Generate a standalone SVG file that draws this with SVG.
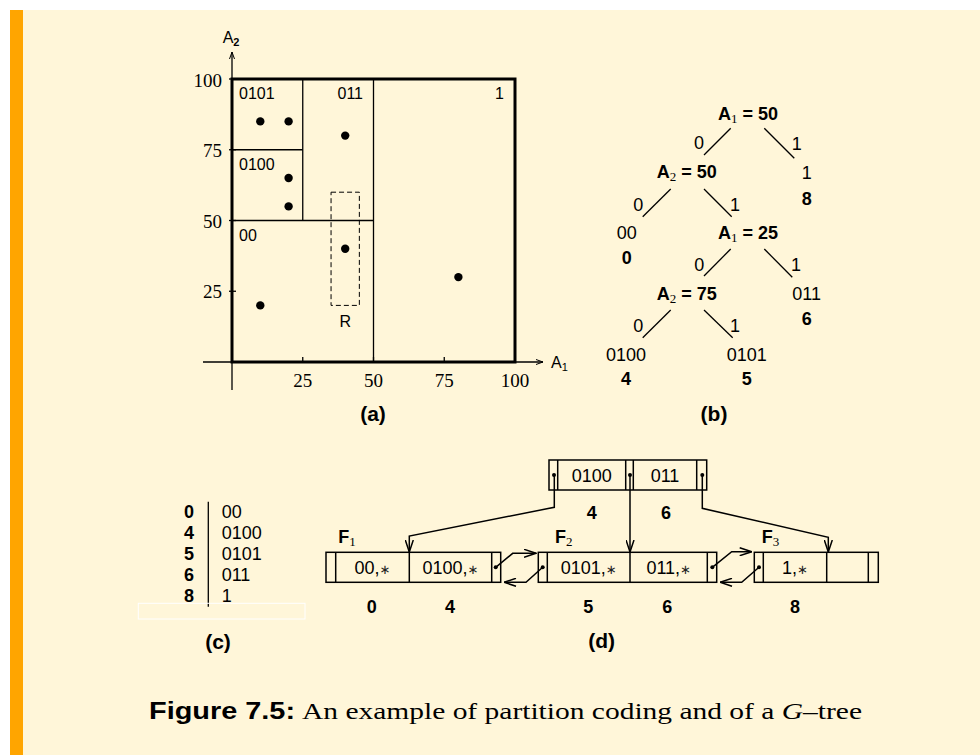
<svg xmlns="http://www.w3.org/2000/svg" width="980" height="755" viewBox="0 0 980 755">
<defs>
<style>
.s{font-family:"Liberation Sans",Arial,sans-serif;fill:#000}
.b{font-family:"Liberation Sans",Arial,sans-serif;font-weight:bold;fill:#000}
.r{font-family:"Liberation Serif","Times New Roman",serif;fill:#000}
.ln{stroke:#000;fill:none;stroke-width:1.3}
.cell{stroke:#000;fill:none;stroke-width:1.5}
.t16{font-size:16px}
.t18{font-size:18px}
.mid{text-anchor:middle}
.end{text-anchor:end}
.ast{font-family:"DejaVu Sans",sans-serif;font-size:13px;font-weight:normal}
</style>
<marker id="ah" viewBox="0 0 13 9" refX="12.5" refY="4.5" markerWidth="13" markerHeight="9" markerUnits="userSpaceOnUse" orient="auto">
<path d="M0.5,0.5 L12.5,4.5 L0.5,8.5" fill="none" stroke="#000" stroke-width="1.5"/>
</marker>
<marker id="ax" viewBox="0 0 7 6" refX="7" refY="3" markerWidth="7" markerHeight="6" markerUnits="userSpaceOnUse" orient="auto">
<path d="M0,0.5 L7,3 L0,5.5" fill="none" stroke="#000" stroke-width="1"/>
</marker>
</defs>
<rect x="0" y="0" width="980" height="755" fill="#fff"/>
<rect x="10" y="10" width="970" height="745" fill="#FFF6D9"/>
<rect x="10" y="10" width="13" height="745" fill="#FFA500"/>

<!-- (a) partition plot -->
<g id="plot">
<line x1="232" y1="390" x2="232" y2="52" class="ln" stroke-width="1" marker-end="url(#ax)"/>
<line x1="203" y1="362" x2="543" y2="362" class="ln" stroke-width="1" marker-end="url(#ax)"/>
<g class="ln" stroke-width="1">
<line x1="229" y1="291.25" x2="236" y2="291.25"/>
<line x1="229" y1="220.5" x2="236" y2="220.5"/>
<line x1="229" y1="149.75" x2="236" y2="149.75"/>
<line x1="229" y1="79" x2="236" y2="79"/>
<line x1="302.75" y1="357" x2="302.75" y2="362"/>
<line x1="373.5" y1="357" x2="373.5" y2="362"/>
<line x1="444.25" y1="357" x2="444.25" y2="362"/>
</g>
<line x1="302.75" y1="79" x2="302.75" y2="220.5" class="ln"/>
<line x1="373.5" y1="79" x2="373.5" y2="362" class="ln"/>
<line x1="232" y1="149.75" x2="302.75" y2="149.75" class="ln"/>
<line x1="232" y1="220.5" x2="373.5" y2="220.5" class="ln"/>
<rect x="232" y="79" width="283" height="283" fill="none" stroke="#000" stroke-width="3"/>
<rect x="331.05" y="192.2" width="28.3" height="113.2" fill="none" stroke="#000" stroke-width="1" stroke-dasharray="5,3"/>
<g fill="#000">
<circle cx="260.3" cy="121.4" r="4.2"/>
<circle cx="288.6" cy="121.4" r="4.2"/>
<circle cx="345.2" cy="135.6" r="4.2"/>
<circle cx="288.6" cy="178" r="4.2"/>
<circle cx="288.6" cy="206.4" r="4.2"/>
<circle cx="345.2" cy="248.8" r="4.2"/>
<circle cx="260.3" cy="305.4" r="4.2"/>
<circle cx="458.4" cy="277.1" r="4.2"/>
</g>
<text x="222.7" y="43" class="s" font-size="16">A<tspan class="b" font-size="11" dy="3">2</tspan></text>
<text x="551" y="367.5" class="s" font-size="16">A<tspan font-size="11" dy="3">1</tspan></text>
<g class="r end" font-size="19">
<text x="222" y="87">100</text>
<text x="222" y="157">75</text>
<text x="222" y="227.5">50</text>
<text x="222" y="298">25</text>
</g>
<g class="r mid" font-size="19">
<text x="302.75" y="387">25</text>
<text x="373.5" y="387">50</text>
<text x="444.25" y="387">75</text>
<text x="515" y="387">100</text>
</g>
<g class="s t16">
<text x="239" y="99">0101</text>
<text x="363" y="99" class="end">011</text>
<text x="504" y="99" class="end">1</text>
<text x="239" y="170">0100</text>
<text x="239" y="241">00</text>
<text x="345.2" y="326.5" class="mid">R</text>
</g>
<text x="373" y="421" class="b mid" font-size="21">(a)</text>
</g>

<!-- (b) tree -->
<g id="tree-edges" class="ln">
<line x1="730.7" y1="128.3" x2="704" y2="155"/>
<line x1="764.3" y1="128.3" x2="794.3" y2="158.3"/>
<line x1="670.7" y1="189" x2="642.7" y2="216.7"/>
<line x1="704" y1="189" x2="731.7" y2="216.7"/>
<line x1="730.7" y1="249" x2="704" y2="276"/>
<line x1="764.3" y1="249" x2="792.3" y2="277.3"/>
<line x1="670.7" y1="310" x2="642.7" y2="337.7"/>
<line x1="704" y1="310" x2="732.7" y2="337.7"/>
</g>
<g id="tree-edge-labels" class="s t18 mid">
<text x="699" y="149">0</text>
<text x="796.7" y="149.5">1</text>
<text x="638.3" y="210.5">0</text>
<text x="735" y="210.5">1</text>
<text x="699.3" y="270.5">0</text>
<text x="796" y="270.5">1</text>
<text x="638.3" y="331.5">0</text>
<text x="735" y="331.5">1</text>
</g>
<g id="t-root"><text x="748" y="119.5" class="b t18 mid">A<tspan class="r" font-weight="normal" font-size="13" dy="3">1</tspan><tspan dy="-3"> = 50</tspan></text></g>
<g id="t-a2-50"><text x="686.7" y="178" class="b t18 mid">A<tspan class="r" font-weight="normal" font-size="13" dy="3">2</tspan><tspan dy="-3"> = 50</tspan></text></g>
<g id="t-a1-25"><text x="748" y="239" class="b t18 mid">A<tspan class="r" font-weight="normal" font-size="13" dy="3">1</tspan><tspan dy="-3"> = 25</tspan></text></g>
<g id="t-a2-75"><text x="686.7" y="300" class="b t18 mid">A<tspan class="r" font-weight="normal" font-size="13" dy="3">2</tspan><tspan dy="-3"> = 75</tspan></text></g>
<g id="t-leaf-1"><text x="806.7" y="179" class="s t18 mid">1</text><text x="806.7" y="205" class="b t18 mid">8</text></g>
<g id="t-leaf-00"><text x="626.7" y="239" class="s t18 mid">00</text><text x="626.7" y="264" class="b t18 mid">0</text></g>
<g id="t-leaf-011"><text x="806.7" y="300" class="s t18 mid">011</text><text x="806.7" y="325" class="b t18 mid">6</text></g>
<g id="t-leaf-0100"><text x="626" y="360.5" class="s t18 mid">0100</text><text x="626" y="385" class="b t18 mid">4</text></g>
<g id="t-leaf-0101"><text x="746.7" y="360.5" class="s t18 mid">0101</text><text x="746.7" y="385" class="b t18 mid">5</text></g>
<text x="714" y="421" class="b mid" font-size="21">(b)</text>

<!-- (c) table -->
<g id="table">
<line x1="208.3" y1="501.7" x2="208.3" y2="606.7" class="ln" stroke-width="1"/>
<rect x="138.3" y="603.3" width="166.7" height="15.7" fill="none" stroke="#fff" stroke-width="1"/>
<g class="b t18 end">
<text x="194" y="517.5">0</text>
<text x="194" y="538.5">4</text>
<text x="194" y="559.5">5</text>
<text x="194" y="580.5">6</text>
<text x="194" y="601.5">8</text>
</g>
<g class="s t18">
<text x="221.7" y="517.5">00</text>
<text x="221.7" y="538.5">0100</text>
<text x="221.7" y="559.5">0101</text>
<text x="221.7" y="580.5">011</text>
<text x="221.7" y="601.5">1</text>
</g>
<text x="218" y="649" class="b mid" font-size="21">(c)</text>
</g>

<!-- (d) G-tree -->
<g id="root-node">
<rect x="549" y="460" width="157.7" height="30" class="cell"/>
<line x1="557.7" y1="460" x2="557.7" y2="490" class="cell"/>
<line x1="625.7" y1="460" x2="625.7" y2="490" class="cell"/>
<line x1="633.3" y1="460" x2="633.3" y2="490" class="cell"/>
<line x1="696.7" y1="460" x2="696.7" y2="490" class="cell"/>
<text x="591.7" y="481.5" class="s t18 mid">0100</text>
<text x="665" y="481.5" class="s t18 mid">011</text>
<circle cx="554" cy="475" r="2"/><circle cx="630" cy="475" r="2"/><circle cx="702.3" cy="475" r="2"/>
<text x="591.7" y="519" class="b t18 mid">4</text>
<text x="666" y="519" class="b t18 mid">6</text>
</g>
<g id="leaf-F1">
<rect x="326" y="552.3" width="174.7" height="30" class="cell"/>
<line x1="335.7" y1="552.3" x2="335.7" y2="582.3" class="cell"/>
<line x1="409.3" y1="552.3" x2="409.3" y2="582.3" class="cell"/>
<line x1="491.7" y1="552.3" x2="491.7" y2="582.3" class="cell"/>
<text x="372.5" y="573.8" class="s t18 mid">00,<tspan class="ast" fill="#222">∗</tspan></text>
<text x="450.5" y="573.8" class="s t18 mid">0100,<tspan class="ast" fill="#222">∗</tspan></text>
<circle cx="495.7" cy="567.3" r="2"/>
<text x="338.3" y="542.5" class="b t18">F<tspan class="r" font-weight="normal" font-size="13" dy="3">1</tspan></text>
<text x="371.7" y="612.5" class="b t18 mid">0</text>
<text x="450" y="612.5" class="b t18 mid">4</text>
</g>
<g id="leaf-F2">
<rect x="538.3" y="552.3" width="178.4" height="30" class="cell"/>
<line x1="547.3" y1="552.3" x2="547.3" y2="582.3" class="cell"/>
<line x1="630" y1="552.3" x2="630" y2="582.3" class="cell"/>
<line x1="707.3" y1="552.3" x2="707.3" y2="582.3" class="cell"/>
<text x="588.7" y="573.8" class="s t18 mid">0101,<tspan class="ast" fill="#222">∗</tspan></text>
<text x="668.7" y="573.8" class="s t18 mid">011,<tspan class="ast" fill="#222">∗</tspan></text>
<circle cx="542.7" cy="567.3" r="2"/><circle cx="712.3" cy="567.3" r="2"/>
<text x="555" y="542.5" class="b t18">F<tspan class="r" font-weight="normal" font-size="13" dy="3">2</tspan></text>
<text x="588.3" y="612.5" class="b t18 mid">5</text>
<text x="667.3" y="612.5" class="b t18 mid">6</text>
</g>
<g id="leaf-F3">
<rect x="754.3" y="552.3" width="124" height="30" class="cell"/>
<line x1="763.3" y1="552.3" x2="763.3" y2="582.3" class="cell"/>
<line x1="826.7" y1="552.3" x2="826.7" y2="582.3" class="cell"/>
<line x1="868.3" y1="552.3" x2="868.3" y2="582.3" class="cell"/>
<text x="795" y="573.8" class="s t18 mid">1,<tspan class="ast" fill="#222">∗</tspan></text>
<circle cx="759" cy="567.3" r="2"/>
<text x="761.7" y="542.5" class="b t18">F<tspan class="r" font-weight="normal" font-size="13" dy="3">3</tspan></text>
<text x="795" y="612.5" class="b t18 mid">8</text>
</g>
<g id="connectors" fill="none" stroke="#000" stroke-width="1.5">
<polyline points="554.3,475 554.3,507.3 409.3,536 409.3,552" marker-end="url(#ah)"/>
<polyline points="630,475 630,552" marker-end="url(#ah)"/>
<polyline points="702.3,475 702.3,508.3 828.3,537.3 828.3,552" marker-end="url(#ah)"/>
<polyline points="495.7,567.3 512.7,553.3 536,553.3" marker-end="url(#ah)"/>
<polyline points="542.7,567.3 526,582.3 504,582.3" marker-end="url(#ah)"/>
<polyline points="712.3,567.3 731.7,551.7 751.7,551.7" marker-end="url(#ah)"/>
<polyline points="759,567.3 741.7,582.3 720,582.3" marker-end="url(#ah)"/>
</g>
<text x="601.7" y="648" class="b mid" font-size="21">(d)</text>

<!-- caption -->
<text x="149" y="719" class="b" font-size="24" textLength="146" lengthAdjust="spacingAndGlyphs">Figure 7.5:</text>
<text x="302" y="719" class="r" font-size="24" textLength="560" lengthAdjust="spacingAndGlyphs">An example of partition coding and of a <tspan font-style="italic">G</tspan>–tree</text>
</svg>
